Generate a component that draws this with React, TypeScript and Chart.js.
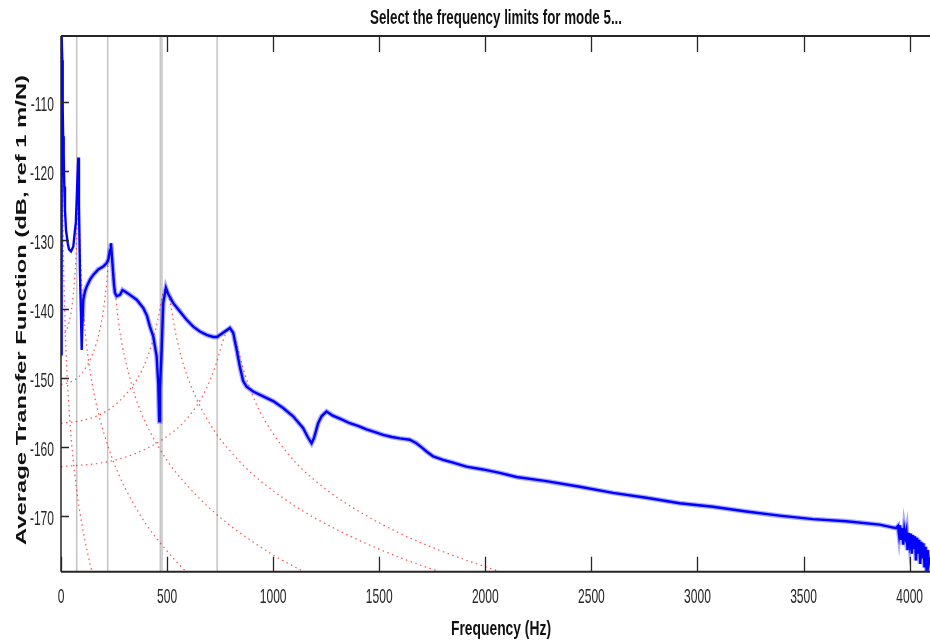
import React, { useEffect, useRef } from "react";
import { Chart, registerables } from "chart.js";

Chart.register(...registerables);

// ---------- texts ----------
const TITLE = "Select the frequency limits for mode 5...";
const X_LABEL = "Frequency (Hz)";
const Y_LABEL = "Average Transfer Function (dB, ref 1 m/N)";

// ---------- axes ----------
const X_TICKS = [0, 500, 1000, 1500, 2000, 2500, 3000, 3500, 4000];
const Y_TICKS = [-170, -160, -150, -140, -130, -120, -110];
const X_RANGE = [0, 4096];
const Y_RANGE = [-178.12, -100.48];

// ---------- measured average FRF (blue) ----------
const MEASURED_FREQ = [
  0, 2, 4, 6, 8, 10, 12.7, 15.5, 18.8, 23.6, 31.6, 37.7, 47.1, 57.9, 65.9, 70, 73, 77.7, 81.5,
  84.8, 89.5, 94.2, 97.5, 101.3, 105, 113, 121, 136.6, 152, 175.7, 199, 215, 224, 231, 235.5,
  242.6, 249.6, 254.4, 262.4, 277.9, 290, 301.5, 325, 356.6, 387.7, 405, 419.2, 434.8, 450.8,
  458.3, 463, 466.3, 474.3, 481.9, 494.6, 504, 529, 560.5, 592, 623.2, 654.7, 686.3, 717.4,
  736.2, 749, 772.5, 796, 811.6, 827.6, 843, 858.7, 874.7, 905.8, 952.9, 1000, 1047, 1094,
  1141, 1163, 1181, 1192, 1212, 1228, 1251.5, 1281, 1320, 1361, 1400, 1440, 1480, 1518, 1560,
  1597, 1644, 1675, 1700, 1723, 1754, 1801, 1848, 1911, 1989, 2068, 2147, 2288, 2445, 2602,
  2759, 2916, 3073, 3230, 3387, 3544, 3701, 3858, 3936,
  3945, 3950, 3955, 3960, 3965, 3970, 3975, 3980, 3985, 3990, 3995, 4000, 4005, 4010, 4015,
  4020, 4025, 4030, 4035, 4040, 4045, 4050, 4055, 4060, 4065, 4070, 4075, 4080, 4085, 4090, 4096,
];
const MEASURED_DB = [
  -146.6, -118, -100.5, -104, -111, -115, -117.9, -122.3, -125.7, -128.6, -130.5, -131.4, -131.7,
  -131, -128.6, -127.5, -125, -121, -118.1,
  -125, -135, -141, -146, -142, -138.7, -137.5, -136.8, -135.8, -135.1, -134.3, -133.9, -133.4,
  -132.8, -131.5, -130.5,
  -133.5, -136.5, -137.7, -138.2, -138, -137.3, -137.5, -138, -138.7, -139.9, -141, -142.6, -144,
  -146.9, -150.8, -156.3, -151.7, -146, -139.2, -137, -137.8, -139.2, -140.4, -141.6, -142.6,
  -143.3, -143.8, -144.1,
  -144.1, -143.8, -143.3, -142.8, -143.5, -145.9, -148.4, -150.5, -151.3, -152, -152.7, -153.4,
  -154.4, -155.6,
  -157.3, -158.6, -159.5, -158.8, -156.6, -155.6, -154.9, -155.5, -156, -156.6, -157, -157.5,
  -157.9, -158.3, -158.6,
  -158.8, -159, -159.5, -160.1, -160.7, -161.4, -161.9, -162.3, -162.9, -163.3, -163.8, -164.4,
  -165, -165.8, -166.7,
  -167.4, -168.2, -168.7, -169.4, -170, -170.5, -170.8, -171.3, -171.8,
  -171.5, -172.8, -171.4, -173.5, -171.8, -174.2, -172, -173, -172.2, -175, -172.5, -174, -172.6,
  -175.5, -172.8,
  -174.8, -173, -176.5, -173.2, -175.5, -173.5, -177, -173.8, -176.2, -174, -177.5, -174.5, -178,
  -175, -177, -176,
];
// index from which the measurement gets visibly noisy (band drawn thicker)
const NOISY_FROM_FREQ = 100;

// ---------- fitted single-mode curves (red dotted) ----------
const MODE1_FREQ = [0, 2, 3.5, 4.5, 5, 5.5, 6.5, 8, 10, 14, 20, 28, 40, 55, 75, 100, 125, 150];
const MODE1_DB = [-119.5, -118, -113.8, -106.1, -100.5, -107.2, -116.5, -123.4, -129, -136.2, -143,
  -149.2, -155.5, -161.1, -166.5, -171.5, -175.4, -178.6];

const MODE2_FREQ = [0, 30, 50, 60, 70, 75, 78, 80, 82, 84, 87, 92, 100, 110, 125, 150, 180, 220, 270,
  330, 400, 480, 560, 620];
const MODE2_DB = [-144, -142.8, -140, -137.3, -132.8, -128.6, -124.5, -120.7, -118, -121.1, -126.7,
  -132.4, -137.8, -142.1, -146.4, -151.4, -155.6, -159.8, -163.9, -167.6, -171.2, -174.4, -177.2, -179];

const MODE3_FREQ = [0, 60, 100, 150, 180, 200, 215, 225, 235, 245, 260, 280, 300, 350, 400, 500, 600,
  700, 800, 900, 1000, 1100, 1200];
const MODE3_DB = [-151, -150.4, -149.3, -146.5, -143.5, -140.2, -136.3, -132.8, -130.5, -133.4, -138.9,
  -143.8, -147, -152.7, -156.6, -162, -165.8, -168.9, -171.5, -173.7, -175.7, -177.4, -179];

const MODE4_FREQ = [0, 100, 200, 300, 380, 430, 460, 480, 495, 510, 540, 580, 640, 720, 800, 900, 1050,
  1200, 1400, 1600, 1800];
const MODE4_DB = [-156.6, -156.2, -155.1, -152.6, -149, -144.9, -141.1, -138, -137, -138.5, -143.5,
  -148.4, -153.1, -157.6, -160.7, -163.9, -167.5, -170.4, -173.5, -176.1, -178.3];

const MODE5_FREQ = [0, 200, 350, 500, 600, 680, 730, 770, 796, 820, 860, 920, 1000, 1100, 1250, 1400,
  1600, 1800, 2000, 2150];
const MODE5_DB = [-162.9, -162.3, -161, -158.5, -155.7, -151.9, -148.1, -144.1, -142.8, -144.4, -148.8,
  -153.8, -158.1, -162.1, -166.2, -169.3, -172.6, -175.2, -177.4, -178.9];

// ---------- selected frequency limits (gray) ----------
const LIMIT_FREQS = [74, 220, 468, 476, 736];

const MODE_CURVES = [
  [MODE1_FREQ, MODE1_DB],
  [MODE2_FREQ, MODE2_DB],
  [MODE3_FREQ, MODE3_DB],
  [MODE4_FREQ, MODE4_DB],
  [MODE5_FREQ, MODE5_DB],
];

function pts(fs: number[], ds: number[]) {
  return fs.map((f, i) => ({ x: f, y: ds[i] }));
}

const FONT = '"Liberation Sans", Arial, Helvetica, sans-serif';
const INK = "#262626";

function stretchedText(
  ctx: CanvasRenderingContext2D,
  text: string,
  x: number,
  y: number,
  font: string,
  sx: number,
  sy: number,
  align: CanvasTextAlign,
  rotate = 0,
  color = INK
) {
  ctx.save();
  ctx.translate(x, y);
  if (rotate) ctx.rotate(rotate);
  ctx.scale(sx, sy);
  ctx.font = font;
  ctx.fillStyle = color;
  ctx.textAlign = align;
  ctx.textBaseline = "alphabetic";
  ctx.fillText(text, 0, 0);
  ctx.restore();
}

function fitScale(ctx: CanvasRenderingContext2D, text: string, font: string, target: number) {
  ctx.save();
  ctx.font = font;
  const w = ctx.measureText(text).width;
  ctx.restore();
  return w > 0 ? target / w : 1;
}

const decorPlugin = {
  id: "matlabDecor",
  afterDraw(chart: any) {
    const { ctx, chartArea: ca, scales } = chart;
    const xs = scales.x;
    const ys = scales.y;
    ctx.save();
    ctx.strokeStyle = INK;
    ctx.lineWidth = 2;
    ctx.beginPath();
    ctx.moveTo(ca.left, ca.top);
    ctx.lineTo(ca.right + 2, ca.top);
    ctx.moveTo(ca.left, ca.bottom);
    ctx.lineTo(ca.right + 2, ca.bottom);
    ctx.stroke();
    ctx.lineWidth = 1.5;
    ctx.beginPath();
    ctx.moveTo(ca.left, ca.top);
    ctx.lineTo(ca.left, ca.bottom);
    ctx.stroke();
    ctx.lineWidth = 1.3;
    ctx.beginPath();
    X_TICKS.forEach((v) => {
      const px = Math.round(xs.getPixelForValue(v)) + 0.5;
      ctx.moveTo(px, ca.bottom);
      ctx.lineTo(px, ca.bottom - 15);
      ctx.moveTo(px, ca.top);
      ctx.lineTo(px, ca.top + 16);
    });
    Y_TICKS.forEach((v) => {
      const py = Math.round(ys.getPixelForValue(v)) + 0.5;
      ctx.moveTo(ca.left, py);
      ctx.lineTo(ca.left + 8, py);
    });
    ctx.stroke();
    ctx.restore();

    const tickFont = "14px " + FONT;
    X_TICKS.forEach((v) => {
      stretchedText(ctx, String(v), xs.getPixelForValue(v), 603.3, tickFont, 0.86, 1.5, "center");
    });
    Y_TICKS.forEach((v) => {
      stretchedText(ctx, String(v), 54, ys.getPixelForValue(v) + 9.3, tickFont, 0.86, 1.5, "right");
    });

    const boldFont = "bold 14px " + FONT;
    const tsx = fitScale(ctx, TITLE, boldFont, 252);
    stretchedText(ctx, TITLE, 496, 24, boldFont, tsx, 1.4, "center", 0, "#111");
    const xsx = fitScale(ctx, X_LABEL, boldFont, 100);
    stretchedText(ctx, X_LABEL, 501, 635.3, boldFont, xsx, 1.5, "center", 0, "#111");
    const ysx = fitScale(ctx, Y_LABEL, boldFont, 470);
    stretchedText(ctx, Y_LABEL, 25.5, 310, boldFont, ysx, 1.05, "center", -Math.PI / 2, "#111");
  },
};

export default function App() {
  const ref = useRef<HTMLCanvasElement | null>(null);

  useEffect(() => {
    const canvas = ref.current;
    if (!canvas) return;
    const measured = pts(MEASURED_FREQ, MEASURED_DB);
    const datasets: any[] = [];
    datasets.push({
      label: "Measured",
      data: measured,
      borderColor: "#0000ff",
      borderWidth: 2.4,
      pointRadius: 0,
      tension: 0,
      order: 0,
      clip: 0,
    });
    datasets.push({
      label: "Measured (noise band)",
      data: measured.filter((p) => p.x >= NOISY_FROM_FREQ),
      borderColor: "rgba(0,0,255,0.33)",
      borderWidth: 5,
      pointRadius: 0,
      tension: 0,
      order: 0.5,
      clip: 0,
    });
    MODE_CURVES.forEach(([f, d], i) => {
      datasets.push({
        label: "Mode " + (i + 1),
        data: pts(f, d),
        borderColor: "rgba(255,20,20,0.75)",
        borderWidth: 1.2,
        borderDash: [1.5, 3.5],
        pointRadius: 0,
        cubicInterpolationMode: "monotone",
        order: 1,
        clip: 0,
      });
    });
    LIMIT_FREQS.forEach((f, i) => {
      datasets.push({
        label: "Limit " + (i + 1),
        data: [
          { x: f, y: Y_RANGE[0] },
          { x: f, y: Y_RANGE[1] },
        ],
        borderColor: "#c4c4c4",
        borderWidth: 1.5,
        pointRadius: 0,
        order: 2,
        clip: 0,
      });
    });

    const chart = new Chart(canvas, {
      type: "line",
      data: { datasets },
      options: {
        animation: false,
        responsive: false,
        devicePixelRatio: 1,
        layout: { padding: { top: 36, left: 0, right: 0, bottom: 0 } },
        plugins: {
          legend: { display: false },
          tooltip: { enabled: false },
          title: { display: false },
        },
        scales: {
          x: {
            type: "linear",
            min: X_RANGE[0],
            max: X_RANGE[1],
            grid: { display: false },
            border: { display: false },
            ticks: { display: false },
            afterFit: (s: any) => {
              s.height = 71.3;
            },
          },
          y: {
            type: "linear",
            min: Y_RANGE[0],
            max: Y_RANGE[1],
            grid: { display: false },
            border: { display: false },
            ticks: { display: false },
            afterFit: (s: any) => {
              s.width = 61;
            },
          },
        },
      } as any,
      plugins: [decorPlugin],
    });
    return () => chart.destroy();
  }, []);

  return (
    <div
      style={{
        position: "fixed",
        left: 0,
        top: 0,
        width: 930,
        height: 643,
        overflow: "hidden",
        background: "#fff",
      }}
    >
      <canvas ref={ref} width={930} height={643} style={{ display: "block" }} />
    </div>
  );
}
